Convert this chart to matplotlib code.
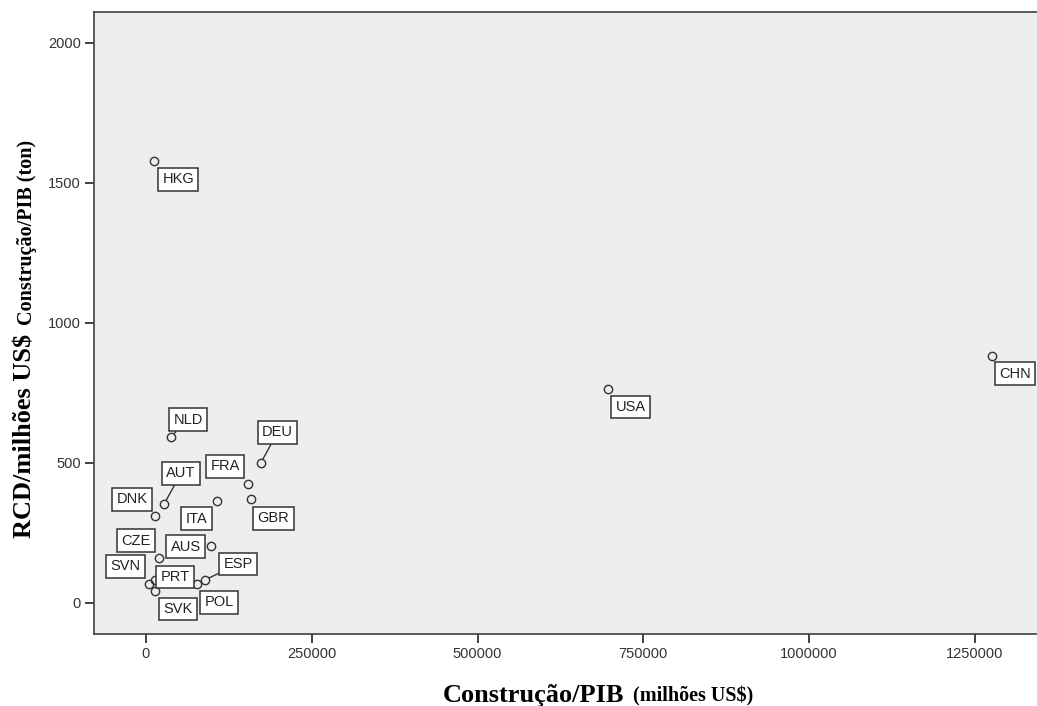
import matplotlib
matplotlib.use("Agg")
import matplotlib.pyplot as plt
from matplotlib.ticker import FormatStrFormatter

# Dados
paises = ['HKG', 'USA', 'CHN', 'NLD', 'DEU', 'FRA', 'GBR', 'ITA', 'AUT',
          'DNK', 'AUS', 'CZE', 'ESP', 'POL', 'PRT', 'SVN', 'SVK']
construcao_pib = [12500, 696000, 1276000, 37700, 172900, 154300, 157800,
                  106600, 27100, 13600, 97500, 19600, 89000, 77400, 13600,
                  5000, 13600]
rcd_milhoes = [1577, 763, 882, 593, 498, 423, 369, 364, 351, 309, 204, 161,
               81, 66, 81, 66, 42]

# posição dos rótulos em relação ao ponto (pixels)
desloc = {'HKG': (24, -18), 'USA': (23, -18), 'CHN': (23, -18),
          'NLD': (17, 17), 'DEU': (17, 31), 'FRA': (-23, 18),
          'GBR': (23, -19), 'ITA': (-20, -18), 'AUT': (17, 31),
          'DNK': (-23, 17), 'AUS': (-25, -1), 'CZE': (-23, 17),
          'ESP': (33, 16), 'POL': (22, -18), 'PRT': (20, 3),
          'SVN': (-24, 18), 'SVK': (23, -18)}
com_linha = ['NLD', 'DEU', 'AUT', 'ESP']

fig = plt.figure(figsize=(10.37, 7.06), dpi=100)
ax = fig.add_axes([0.0906, 0.102, 0.9094, 0.881])
ax.set_facecolor('#eeeeee')

ax.plot(construcao_pib, rcd_milhoes, 'o', ms=6, mfc='none', mec='#333333',
        mew=1.0, zorder=3)

for p, x, y in zip(paises, construcao_pib, rcd_milhoes):
    seta = None
    if p in com_linha:
        seta = dict(arrowstyle='-', color='#333333', lw=1.0,
                    shrinkA=0, shrinkB=3.5)
    ax.annotate(p, (x, y), xytext=desloc[p], textcoords='offset pixels',
                ha='center', va='center', fontsize=10.5,
                family='Liberation Sans', color='#222222',
                bbox=dict(boxstyle='square,pad=0.3', fc='white',
                          ec='#333333', lw=1.1),
                arrowprops=seta, zorder=4)

ax.set_xlim(-78400, 1343500)
ax.set_ylim(-112, 2110)
ax.set_xticks([0, 250000, 500000, 750000, 1000000, 1250000])
ax.set_yticks([0, 500, 1000, 1500, 2000])
ax.xaxis.set_major_formatter(FormatStrFormatter('%d'))
ax.yaxis.set_major_formatter(FormatStrFormatter('%d'))
ax.tick_params(direction='out', length=6.5, width=1.3, color='#333333',
               labelsize=10.5, labelcolor='#333333', pad=3)
for lab in ax.get_xticklabels() + ax.get_yticklabels():
    lab.set_family('Liberation Sans')

for s in ['left', 'bottom', 'top']:
    ax.spines[s].set_color('#404040')
    ax.spines[s].set_linewidth(1.2)
ax.spines['right'].set_visible(False)

serif = 'Liberation Serif'
# rótulo do eixo x
fig.text(0.4272, 0.006, 'Construção/PIB', family=serif, weight='bold',
         fontsize=19, ha='left', va='baseline')
fig.text(0.610, 0.006, '(milhões US$)', family=serif, weight='bold',
         fontsize=14.5, ha='left', va='baseline')
# rótulo do eixo y
fig.text(0.0305, 0.238, 'RCD/milhões US$', family=serif, weight='bold',
         fontsize=19, rotation=90, rotation_mode='anchor',
         ha='left', va='baseline')
fig.text(0.0305, 0.5397, 'Construção/PIB (ton)', family=serif,
         weight='bold', fontsize=14.5, rotation=90, rotation_mode='anchor',
         ha='left', va='baseline')

fig.savefig('out.png', dpi=100)
